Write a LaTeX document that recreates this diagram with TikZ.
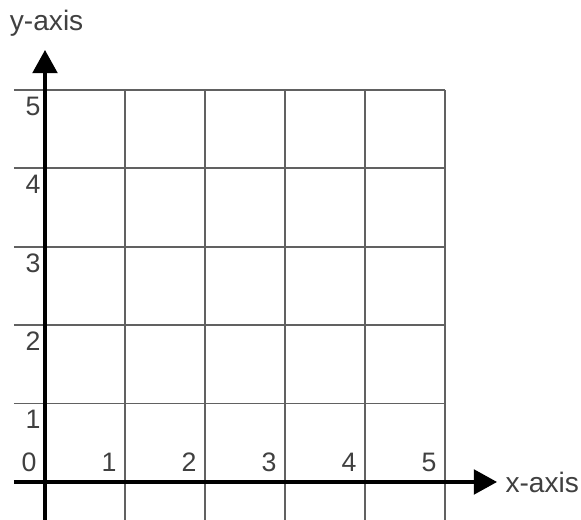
\documentclass[tikz,border=0pt]{standalone}
\usepackage{fontspec}
\setmainfont{Liberation Sans}
\usetikzlibrary{arrows.meta,positioning}
\begin{document}
\begin{tikzpicture}[x=1cm, y=0.98cm, font=\fontsize{10}{12}\selectfont,
  gridline/.style={draw=black!62, line width=0.65pt},
  axisline/.style={draw=black, line width=1.1pt, -{Triangle[length=2.9mm, width=3.1mm]}},
  ticklabel/.style={inner sep=0pt, text=black!75, font=\fontsize{9.5}{11}\selectfont},
  axislabel/.style={inner sep=0pt, text=black!75}]
\useasboundingbox (-0.5625cm,-0.475cm) rectangle (6.7cm,6.025cm);
% grid
\foreach \k in {1,...,5} {
  \draw[gridline] (-0.39,\k) -- (5,\k);
  \draw[gridline] (\k,5) -- (\k,-0.5);
}
% axes
\coordinate (xstart) at (-0.39,0);
\coordinate (xend) at (5.65,0);
\coordinate (ystart) at (0,-0.5);
\coordinate (yend) at (0,5.51);
\draw[axisline] (xstart) -- (xend);
\draw[axisline] (ystart) -- (yend);
\node[axislabel, right=0.1cm of xend] (xlabel) {x-axis};
\node[axislabel, above=0.16cm of yend, xshift=0.02cm] (ylabel) {y-axis};
% tick numbers
\foreach \k in {0,...,5} {
  \node[ticklabel, anchor=south east] (xtick\k) at ([xshift=-0.1cm, yshift=0.12cm]\k,0) {\k};
}
\foreach \k in {1,...,5} {
  \node[ticklabel, anchor=north east] (ytick\k) at ([xshift=-0.05cm, yshift=-0.08cm]0,\k) {\k};
}
\end{tikzpicture}
\end{document}
